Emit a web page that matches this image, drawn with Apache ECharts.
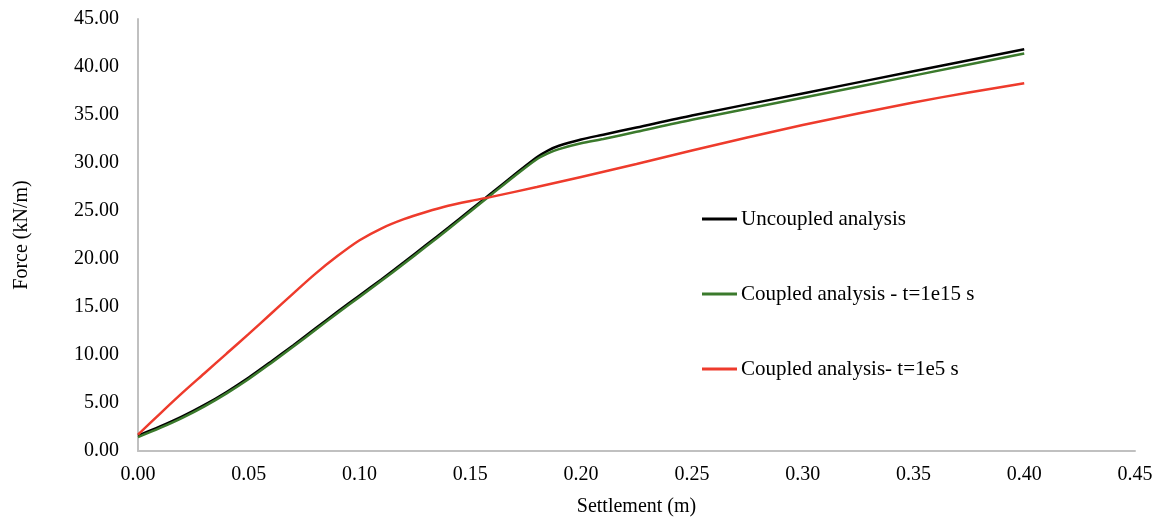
<!DOCTYPE html>
<html>
<head>
<meta charset="utf-8">
<script src="https://cdn.jsdelivr.net/npm/echarts@6/dist/echarts.min.js"></script>
<style>
  html, body { margin: 0; padding: 0; background: #fff; }
  #main { width: 1163px; height: 518px; }
</style>
</head>
<body>
<div id="main"></div>
<script>
var myChart = echarts.init(document.getElementById('main'));

// settlement (m) / force (kN/m)
var uncoupledX = [0, 0.01, 0.02, 0.03, 0.04, 0.05, 0.06, 0.07, 0.08, 0.09, 0.10, 0.11, 0.12, 0.13, 0.14, 0.15, 0.16, 0.17, 0.18, 0.185, 0.19, 0.20, 0.21, 0.225, 0.25, 0.30, 0.35, 0.40];
var uncoupledY = [1.6, 2.55, 3.6, 4.8, 6.15, 7.65, 9.3, 11.0, 12.75, 14.5, 16.2, 17.9, 19.65, 21.45, 23.25, 25.1, 26.95, 28.8, 30.6, 31.3, 31.8, 32.45, 32.95, 33.7, 34.95, 37.25, 39.55, 41.85];

var coupled15X = [0, 0.01, 0.02, 0.03, 0.04, 0.05, 0.06, 0.07, 0.08, 0.09, 0.10, 0.11, 0.12, 0.13, 0.14, 0.15, 0.16, 0.17, 0.18, 0.185, 0.19, 0.20, 0.21, 0.225, 0.25, 0.30, 0.35, 0.40];
var coupled15Y = [1.45, 2.4, 3.45, 4.65, 6.0, 7.5, 9.15, 10.85, 12.6, 14.35, 16.05, 17.75, 19.5, 21.3, 23.1, 24.95, 26.8, 28.65, 30.4, 31.0, 31.45, 32.05, 32.5, 33.25, 34.5, 36.8, 39.1, 41.4];

var coupled5X = [0, 0.01, 0.02, 0.03, 0.04, 0.05, 0.06, 0.07, 0.08, 0.09, 0.10, 0.11, 0.12, 0.13, 0.14, 0.15, 0.16, 0.18, 0.20, 0.225, 0.25, 0.275, 0.30, 0.325, 0.35, 0.375, 0.40];
var coupled5Y = [1.7, 3.9, 6.05, 8.1, 10.15, 12.2, 14.3, 16.4, 18.45, 20.3, 21.95, 23.2, 24.15, 24.9, 25.55, 26.05, 26.5, 27.5, 28.55, 29.9, 31.3, 32.65, 33.95, 35.15, 36.3, 37.35, 38.3];

var seriesNames = ['Uncoupled analysis', 'Coupled analysis - t=1e15 s', 'Coupled analysis- t=1e5 s'];

function pairs(xs, ys) {
  return xs.map(function (x, i) { return [x, ys[i]]; });
}

var font = '"Liberation Serif", "Times New Roman", serif';

var option = {
  color: ['#000000', '#3b7a2c', '#ee3b2c'],
  animation: false,
  legend: {
    orient: 'vertical',
    left: 697,
    top: 203,
    icon: 'rect',
    itemWidth: 35,
    itemHeight: 3,
    itemGap: 53,
    data: seriesNames,
    textStyle: {
      fontFamily: font,
      fontSize: 21,
      lineHeight: 22,
      color: '#000',
      padding: [0, 0, 0, -1]
    }
  },
  grid: {
    left: 138,
    right: 28,
    top: 19,
    bottom: 67,
    outerBoundsMode: 'none'
  },
  xAxis: {
    type: 'value',
    min: 0,
    max: 0.45,
    interval: 0.05,
    name: 'Settlement (m)',
    nameLocation: 'middle',
    nameGap: 46,
    nameTextStyle: { fontFamily: font, fontSize: 20, color: '#000' },
    axisLine: { lineStyle: { color: '#c0c0c0', width: 2 } },
    axisTick: { show: false },
    splitLine: { show: false },
    axisLabel: {
      margin: 14,
      fontFamily: font,
      fontSize: 20,
      color: '#000',
      formatter: function (v) { return v.toFixed(2); }
    }
  },
  yAxis: {
    type: 'value',
    min: 0,
    max: 45,
    interval: 5,
    name: 'Force (kN/m)',
    nameLocation: 'middle',
    nameGap: 106,
    nameTextStyle: { fontFamily: font, fontSize: 20, color: '#000' },
    axisLine: { show: true, lineStyle: { color: '#c0c0c0', width: 2 } },
    axisTick: { show: false },
    splitLine: { show: false },
    axisLabel: {
      margin: 19,
      fontFamily: font,
      fontSize: 20,
      color: '#000',
      formatter: function (v) { return v.toFixed(2); }
    }
  },
  series: [
    {
      name: seriesNames[0],
      type: 'line',
      symbol: 'none',
      smooth: 0.3,
      lineStyle: { width: 2.5 },
      data: pairs(uncoupledX, uncoupledY)
    },
    {
      name: seriesNames[1],
      type: 'line',
      symbol: 'none',
      smooth: 0.3,
      lineStyle: { width: 2.5 },
      data: pairs(coupled15X, coupled15Y)
    },
    {
      name: seriesNames[2],
      type: 'line',
      symbol: 'none',
      smooth: 0.3,
      lineStyle: { width: 2.5 },
      data: pairs(coupled5X, coupled5Y)
    }
  ]
};

option && myChart.setOption(option);
</script>
</body>
</html>
